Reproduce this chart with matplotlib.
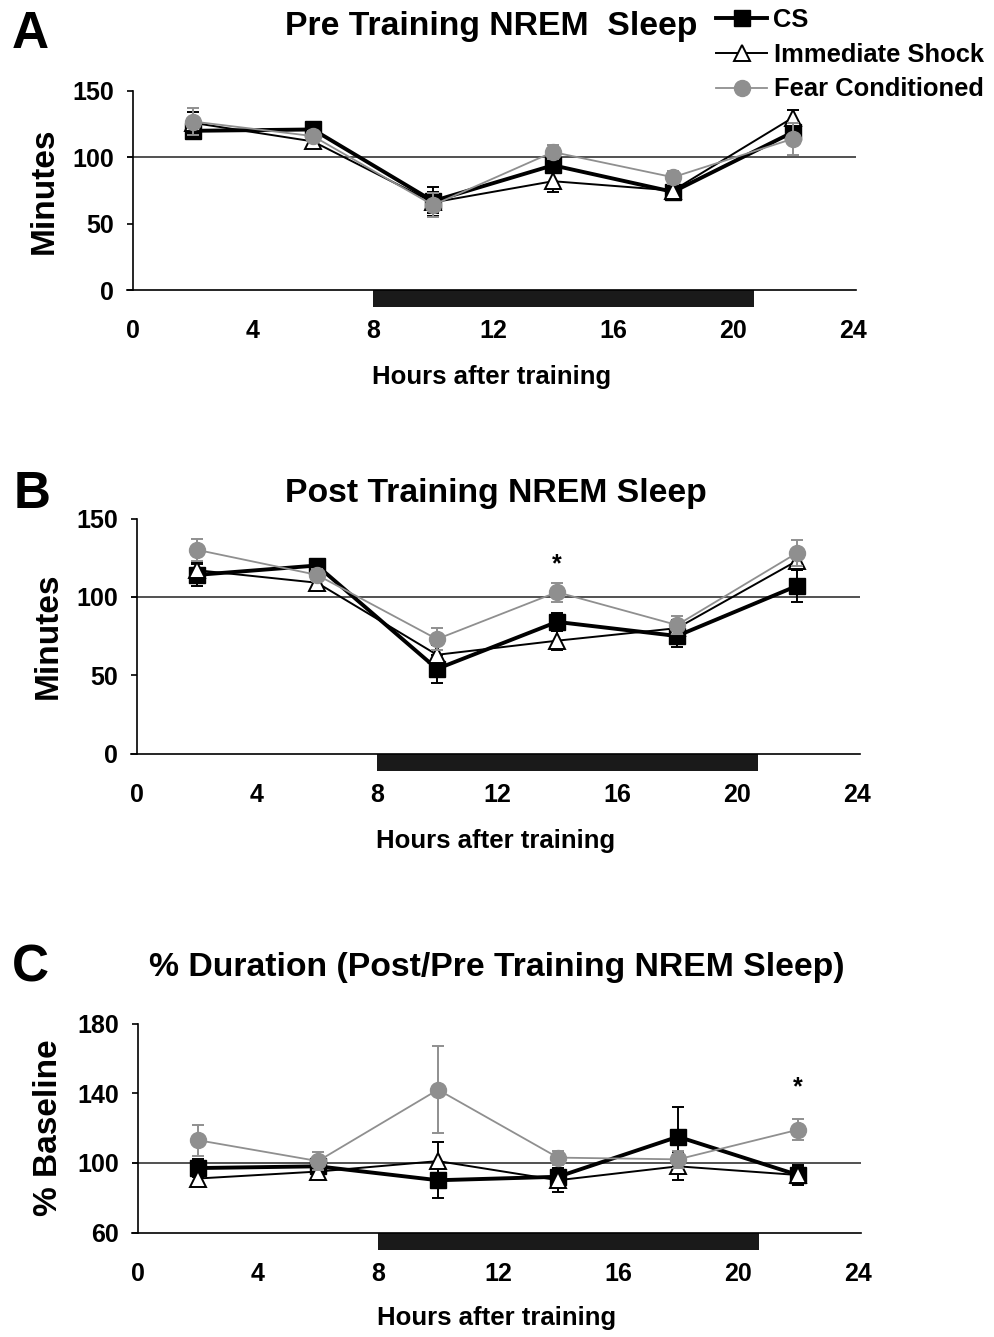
import matplotlib.pyplot as plt
import matplotlib.transforms as mtransforms
from matplotlib.patches import Rectangle

plt.rcParams['font.family'] = ['Liberation Sans', 'DejaVu Sans']
plt.rcParams['font.weight'] = 'bold'

# sampling times (hours after training)
hours = [2, 6, 10, 14, 18, 22]
x_ticks = [0, 4, 8, 12, 16, 20, 24]
groups = ['CS', 'Immediate Shock', 'Fear Conditioned']

# dark phase (black bar under the x axis)
dark_start = 8
dark_end = 20.7

# A - pre training NREM sleep (minutes)
pre_cs = [120, 121, 67, 94, 74, 119]
pre_cs_err = [4, 4, 11, 5, 6, 5]
pre_is = [126, 112, 66, 82, 75, 130]
pre_is_err = [8, 4, 8, 8, 6, 6]
pre_fc = [127, 116, 64, 104, 85, 114]
pre_fc_err = [10, 4, 9, 5, 5, 12]

# B - post training NREM sleep (minutes)
post_cs = [114, 120, 54, 84, 75, 107]
post_cs_err = [7, 3, 9, 6, 7, 10]
post_is = [117, 109, 63, 72, 80, 123]
post_is_err = [5, 5, 6, 6, 5, 6]
post_fc = [130, 114, 73, 103, 82, 128]
post_fc_err = [7, 4, 7, 6, 6, 8]

# C - % duration post/pre
pct_cs = [97, 98, 90, 92, 115, 93]
pct_cs_err = [5, 3, 10, 5, 17, 6]
pct_is = [91, 95, 101, 90, 98, 93]
pct_is_err = [4, 4, 11, 7, 8, 5]
pct_fc = [113, 101, 142, 103, 102, 119]
pct_fc_err = [9, 5, 25, 4, 5, 6]

# significance stars (hour index of the Fear Conditioned point)
post_star = [3]
pct_star = [5]

styles = [
    dict(color='black', marker='s', mfc='black', mec='black', lw=2.8, ms=11, zorder=3),
    dict(color='black', marker='^', mfc='white', mec='black', mew=1.4, lw=1.4, ms=11, zorder=4),
    dict(color='#8f8f8f', marker='o', mfc='#8f8f8f', mec='#8f8f8f', lw=1.3, ms=11.5, zorder=5),
]

W, H = 994, 1337
fig = plt.figure(figsize=(W / 100, H / 100), dpi=100)


def px_axes(top0, bottom0, x0_px):
    # x0_px: pixel of hour 0, 30 px per hour, xlim -0.2..24.1
    l = x0_px - 0.2 * 30
    w = 24.3 * 30
    return fig.add_axes([l / W, 1 - bottom0 / H, w / W, (bottom0 - top0) / H])


def draw_panel(ax, series, errs, ylim, yticks, ylabel, title, title_y, xlabel_y,
               star_idx=(), star_off=12):
    handles = []
    for vals, err, st in zip(series, errs, styles):
        c = ax.errorbar(hours, vals, yerr=err, capsize=4.5, capthick=1.4,
                        elinewidth=1.4, ecolor=st['color'], **st)
        handles.append(c[0])
    ax.axhline(100, color='#333333', lw=1.2, zorder=1)
    ax.set_xlim(-0.2, 24.1)
    ax.set_ylim(*ylim)
    ax.set_yticks(yticks)
    ax.set_xticks(x_ticks)
    for s in ['top', 'right']:
        ax.spines[s].set_visible(False)
    ax.spines['left'].set_position(('data', 0))
    ax.spines['left'].set_linewidth(1.2)
    ax.spines['bottom'].set_linewidth(1.2)
    ax.tick_params(axis='y', direction='out', length=4.5, width=1.2, pad=9, labelsize=18)
    ax.tick_params(axis='x', length=0, pad=21, labelsize=18)
    ax.set_ylabel(ylabel, fontsize=24, fontweight='bold', va='center')
    ax.yaxis.set_label_coords(-0.114, 0.5)
    ax.set_xlabel('Hours after training', fontsize=18.5, fontweight='bold', va='center')
    ax.xaxis.set_label_coords(0.5, xlabel_y)
    ax.text(0.5, title_y, title, transform=ax.transAxes, ha='center', va='center',
            fontsize=24.3, fontweight='bold')
    # dark phase bar
    h_ax = 17 / (ax.get_position().height * H)
    trans = mtransforms.blended_transform_factory(ax.transData, ax.transAxes)
    ax.add_patch(Rectangle((dark_start, -h_ax), dark_end - dark_start, h_ax,
                           transform=trans, clip_on=False, color='#1a1a1a', lw=0))
    for i in star_idx:
        ax.annotate('*', (hours[i], series[2][i] + errs[2][i]), xytext=(0, star_off),
                    textcoords='offset points', ha='center', va='center', fontsize=18)
    return handles


axA = px_axes(91, 290, 133)
hA = draw_panel(axA, [pre_cs, pre_is, pre_fc], [pre_cs_err, pre_is_err, pre_fc_err],
                (0, 150), [0, 50, 100, 150], 'Minutes', 'Pre Training NREM  Sleep',
                1 + 64 / 199, -87 / 199)

axB = px_axes(518.5, 753.5, 137)
draw_panel(axB, [post_cs, post_is, post_fc], [post_cs_err, post_is_err, post_fc_err],
           (0, 150), [0, 50, 100, 150], 'Minutes', 'Post Training NREM Sleep',
           1 + 25 / 235, -87 / 235, star_idx=post_star, star_off=13)

axC = px_axes(1023.5, 1232.5, 138)
draw_panel(axC, [pct_cs, pct_is, pct_fc], [pct_cs_err, pct_is_err, pct_fc_err],
           (60, 180), [60, 100, 140, 180], '% Baseline',
           '% Duration (Post/Pre Training NREM Sleep)',
           1 + 56 / 209, -86 / 209, star_idx=pct_star, star_off=23)

# panel letters
for letter, (x, y) in zip('ABC', [(30, 35), (32, 494), (30, 968)]):
    fig.text(x / W, 1 - y / H, letter, fontsize=37, fontweight='bold', ha='center', va='center')

fig.legend(hA, groups, loc='upper left', bbox_to_anchor=(716 / W, 1 - 8 / H),
           frameon=False, fontsize=18.4, handlelength=2.0, handletextpad=0.25,
           labelspacing=0.42, borderpad=0, borderaxespad=0, numpoints=1)

fig.savefig('out.png', dpi=100)
